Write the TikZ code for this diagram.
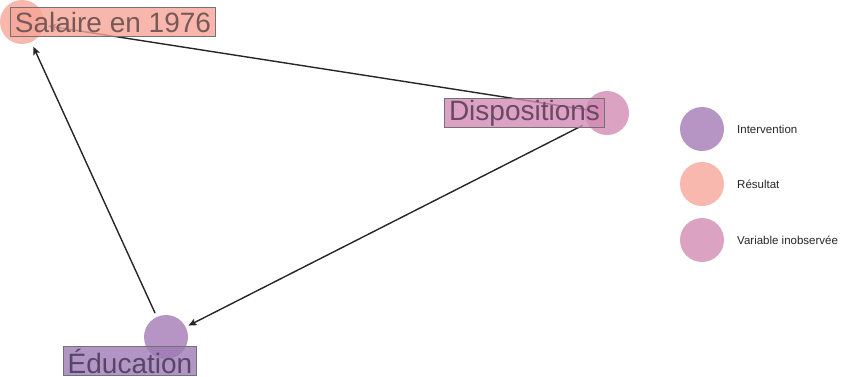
\documentclass[tikz,border=0pt]{standalone}
\usepackage{fontspec}
\setmainfont{Liberation Sans}
\usetikzlibrary{arrows.meta}
\definecolor{cInt}{HTML}{AE89BE}
\definecolor{cRes}{HTML}{F8B0A4}
\definecolor{cUno}{HTML}{D898BB}
\definecolor{bRes}{HTML}{F7A497}
\definecolor{bUno}{HTML}{D48AB6}
\definecolor{bInt}{HTML}{9E7AB5}
\definecolor{tRes}{HTML}{765A58}
\definecolor{tUno}{HTML}{6A4A60}
\definecolor{tInt}{HTML}{584668}
\tikzset{
  dot/.style={circle, minimum size=44pt, inner sep=0pt, fill=#1, fill opacity=0.9, draw=none},
  lbl/.style={draw=gray!90!black, line width=0.6pt, fill=#1, fill opacity=0.8, text opacity=1, inner xsep=4.5pt, inner ysep=0pt, minimum height=29pt, font=\fontsize{28}{30}\selectfont},
  edge/.style={-{Stealth[length=8pt,width=7pt,inset=1.5pt]}, line width=1.4pt, black!85},
  legtxt/.style={anchor=west, font=\fontsize{11.5}{13}\selectfont, text=black!85, inner sep=0pt}
}
\begin{document}
\begin{tikzpicture}[x=1pt,y=-1pt]
\useasboundingbox (0,0) rectangle (845,376);
% circles
\node[dot=cRes] (sal) at (22,22) {};
\node[dot=cUno] (dis) at (607,113) {};
\node[dot=cInt] (edu) at (166,337) {};
% connectors
\draw[edge, shorten <=-5pt, shorten >=4pt] (dis) -- (sal);
\draw[edge, shorten <=5pt, shorten >=3pt] (dis) -- (edu);
\draw[edge, shorten <=4pt, shorten >=5pt] (edu) -- (sal);
% labels
\node[lbl=bRes, text=tRes] (salL) at (113,22) {Salaire en 1976};
\node[lbl=bUno, text=tUno] (disL) at (524.5,113) {Dispositions};
\node[lbl=bInt, text=tInt] (eduL) at (130,361) {Éducation};
% legend
\node[dot=cInt] (l1) at (702,129) {};
\node[dot=cRes] (l2) at (702,184) {};
\node[dot=cUno] (l3) at (702,240) {};
\node[legtxt] (t1) at (737,129) {Intervention};
\node[legtxt] (t2) at (737,184) {Résultat};
\node[legtxt] (t3) at (737,240) {Variable inobservée};
\end{tikzpicture}
\end{document}
